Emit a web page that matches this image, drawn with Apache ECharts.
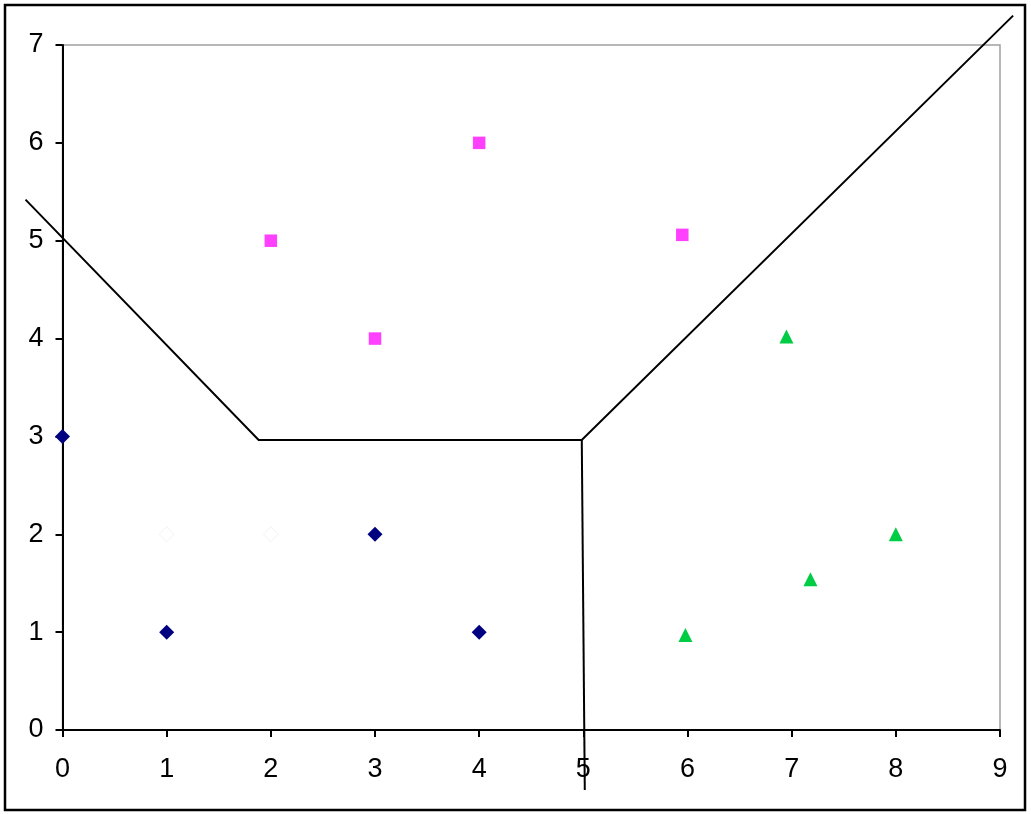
<!DOCTYPE html>
<html>
<head>
<meta charset="utf-8">
<script src="https://cdn.jsdelivr.net/npm/echarts@6/dist/echarts.min.js"></script>
<style>
html,body{margin:0;padding:0;background:#fff;}
#c{width:1031px;height:814px;}
</style>
</head>
<body>
<div id="c"></div>
<script>
// Data
var xTicks = [0,1,2,3,4,5,6,7,8,9];
var yTicks = [0,1,2,3,4,5,6,7];
var blueDiamonds = [[0,3],[1,1],[3,2],[4,1]];
var whiteDiamonds = [[1,2],[2,2]];
var pinkSquares = [[2,5],[3,4],[4,6],[5.95,5.06]];
var greenTriangles = [[6.95,4.02],[7.18,1.54],[8,2],[5.98,0.97]];
var boundaryA = [[-0.355,5.42],[1.883,2.963],[4.985,2.963],[9.126,7.3]];
var boundaryB = [[4.985,2.963],[5.014,-0.613]];
var boundaries = [boundaryA, boundaryB];

var chart = echarts.init(document.getElementById('c'), null, {renderer:'canvas'});
chart.setOption({
  animation:false,
  backgroundColor:'#fff',
  grid:{left:62.5, right:31, top:45, bottom:84, show:true, borderColor:'#a0a0a0', borderWidth:1.5, backgroundColor:'transparent'},
  xAxis:{
    type:'value', min:0, max:9, interval:1,
    axisLine:{show:true, onZero:false, lineStyle:{color:'#000', width:2}},
    axisTick:{show:true, length:7, lineStyle:{color:'#000', width:2}},
    axisLabel:{margin:26, color:'#000', fontSize:27, fontFamily:'Arial, Liberation Sans, sans-serif', formatter:function(v){return xTicks.indexOf(v)>=0?String(v):'';}},
    splitLine:{show:false}
  },
  yAxis:{
    type:'value', min:0, max:7, interval:1,
    axisLine:{show:true, onZero:false, lineStyle:{color:'#000', width:2}},
    axisTick:{show:true, length:7, lineStyle:{color:'#000', width:2}},
    axisLabel:{margin:19, color:'#000', fontSize:27, fontFamily:'Arial, Liberation Sans, sans-serif', formatter:function(v){return yTicks.indexOf(v)>=0?String(v):'';}},
    splitLine:{show:false}
  },
  series:[
    {type:'custom', data:[[0,0],[0,0]], clip:false, z:3, silent:true,
     renderItem:function(params, api){
       var pts = boundaries[params.dataIndex].map(function(p){return api.coord(p);});
       return {type:'polyline', shape:{points:pts}, style:{stroke:'#000', lineWidth:2, fill:null}};
     }},
    {type:'scatter', data:blueDiamonds, symbol:'diamond', symbolSize:[15,15], itemStyle:{color:'#000080', opacity:1}, z:5},
    {type:'scatter', data:whiteDiamonds, symbol:'diamond', symbolSize:[15,15], itemStyle:{color:'#ffffff', borderColor:'#f2f2f8', borderWidth:1, opacity:1}, z:5},
    {type:'scatter', data:pinkSquares, symbol:'rect', symbolSize:[12.5,12.5], itemStyle:{color:'#FF40FF', opacity:1}, z:5},
    {type:'scatter', data:greenTriangles, symbol:'triangle', symbolSize:[14,14], itemStyle:{color:'#00CC44', opacity:1}, z:5}
  ],
  graphic:[
    {type:'rect', shape:{x:5, y:5, width:1020, height:805}, style:{fill:'none', stroke:'#000', lineWidth:2.5}, z:10}
  ]
});
</script>
</body>
</html>
